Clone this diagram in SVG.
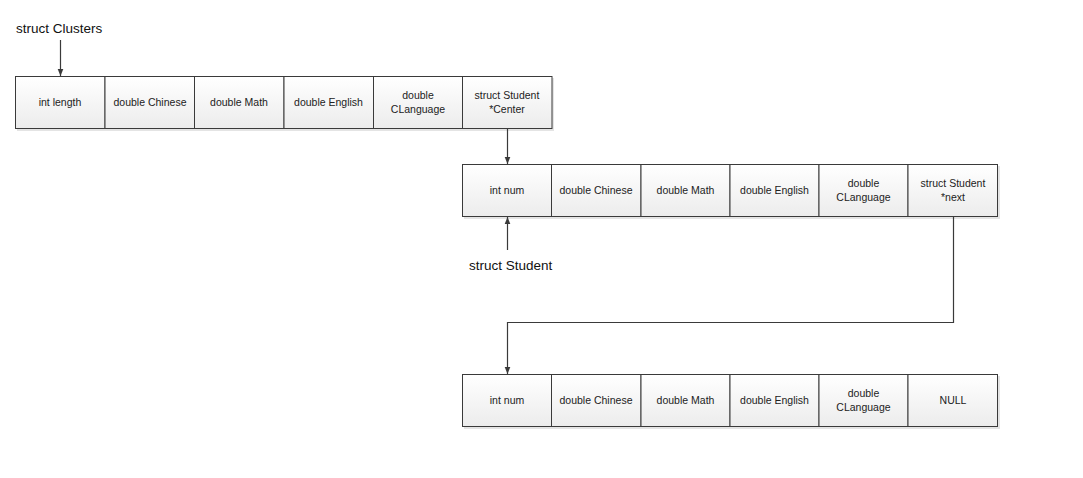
<svg xmlns="http://www.w3.org/2000/svg" width="1083" height="478" viewBox="0 0 1083 478">
<style>
.cell{fill:url(#g);stroke:#3a3a3a;stroke-width:1}
.shadow{fill:#e4e4e4}
.t{font-family:"Liberation Sans",Arial,sans-serif;font-size:10.5px;fill:#222;text-anchor:middle}
.lbl{font-family:"Liberation Sans",Arial,sans-serif;font-size:13.5px;fill:#111}
.c{fill:none;stroke:#3a3a3a;stroke-width:1.2}
</style>
<defs>
<linearGradient id="g" x1="0" y1="0" x2="0" y2="1">
<stop offset="0" stop-color="#ffffff"/>
<stop offset="1" stop-color="#ececec"/>
</linearGradient>
<marker id="a" viewBox="0 0 10 10" refX="10" refY="5" markerWidth="7" markerHeight="7" orient="auto" markerUnits="userSpaceOnUse">
<path d="M0,1 L10,5 L0,9 z" fill="#3a3a3a"/>
</marker>
</defs>
<rect x="0" y="0" width="1083" height="478" fill="#fff"/>

<g id="clusters">
<rect class="shadow" x="17" y="78" width="537" height="53"/>
<rect class="cell" x="15.5" y="76.5" width="89.5" height="52"/>
<rect class="cell" x="105" y="76.5" width="89.5" height="52"/>
<rect class="cell" x="194.5" y="76.5" width="89.5" height="52"/>
<rect class="cell" x="284" y="76.5" width="89.5" height="52"/>
<rect class="cell" x="373.5" y="76.5" width="89" height="52"/>
<rect class="cell" x="462.5" y="76.5" width="89.5" height="52"/>
<text class="t" x="60" y="106">int length</text>
<text class="t" x="150" y="106">double Chinese</text>
<text class="t" x="239" y="106">double Math</text>
<text class="t" x="328.5" y="106">double English</text>
<text class="t" x="418" y="99">double</text>
<text class="t" x="418" y="113">CLanguage</text>
<text class="t" x="507" y="99">struct Student</text>
<text class="t" x="507" y="113">*Center</text>
</g>

<g id="student1">
<rect class="shadow" x="464" y="166" width="536" height="53"/>
<rect class="cell" x="462.5" y="164.5" width="89" height="52"/>
<rect class="cell" x="551.5" y="164.5" width="89.5" height="52"/>
<rect class="cell" x="641" y="164.5" width="89" height="52"/>
<rect class="cell" x="730" y="164.5" width="89" height="52"/>
<rect class="cell" x="819" y="164.5" width="89" height="52"/>
<rect class="cell" x="908" y="164.5" width="89.5" height="52"/>
<text class="t" x="507" y="194">int num</text>
<text class="t" x="596" y="194">double Chinese</text>
<text class="t" x="685.5" y="194">double Math</text>
<text class="t" x="774.5" y="194">double English</text>
<text class="t" x="863.5" y="187">double</text>
<text class="t" x="863.5" y="201">CLanguage</text>
<text class="t" x="953" y="187">struct Student</text>
<text class="t" x="953" y="201">*next</text>
</g>

<g id="student2">
<rect class="shadow" x="464" y="376" width="536" height="53"/>
<rect class="cell" x="462.5" y="374.5" width="89" height="52"/>
<rect class="cell" x="551.5" y="374.5" width="89.5" height="52"/>
<rect class="cell" x="641" y="374.5" width="89" height="52"/>
<rect class="cell" x="730" y="374.5" width="89" height="52"/>
<rect class="cell" x="819" y="374.5" width="89" height="52"/>
<rect class="cell" x="908" y="374.5" width="89.5" height="52"/>
<text class="t" x="507" y="404">int num</text>
<text class="t" x="596" y="404">double Chinese</text>
<text class="t" x="685.5" y="404">double Math</text>
<text class="t" x="774.5" y="404">double English</text>
<text class="t" x="863.5" y="397">double</text>
<text class="t" x="863.5" y="411">CLanguage</text>
<text class="t" x="953" y="404">NULL</text>
</g>

<g id="label-clusters">
<text class="lbl" x="16" y="33">struct Clusters</text>
</g>
<g id="label-student">
<text class="lbl" x="469" y="270">struct Student</text>
</g>

<g id="connectors">
<path class="c" d="M60.5,40 V76" marker-end="url(#a)"/>
<path class="c" d="M507.5,129 V164" marker-end="url(#a)"/>
<path class="c" d="M507.5,250 V217" marker-end="url(#a)"/>
<path class="c" d="M953.5,217 V322.5 H507.5 V374" marker-end="url(#a)"/>
</g>
</svg>
